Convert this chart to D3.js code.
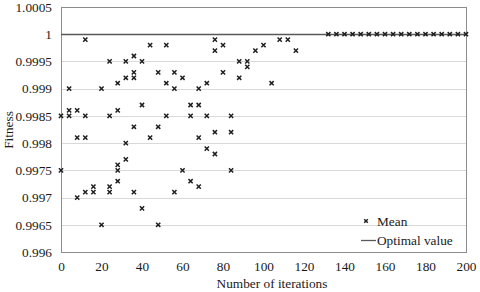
<!DOCTYPE html>
<meta charset="utf-8">
<style>

body {
  margin: 0;
  background: #fff;
}

text {
  font-family: "Liberation Serif", "Times New Roman", serif;
  font-size: 13.3px;
  fill: #1a1a1a;
}

.grid line {
  stroke: #d9d9d9;
  stroke-width: 1px;
}

.frame {
  fill: none;
  stroke: #8c8c8c;
  stroke-width: 1px;
}

.optimal {
  fill: none;
  stroke: #595959;
  stroke-width: 1.3px;
}

.mark {
  fill: none;
  stroke: #1f1f1f;
  stroke-width: 1.5px;
}

</style>
<body>
<script src="https://d3js.org/d3.v7.min.js"></script>
<script>

// mean fitness per run (iteration, value)
var meanIter = [
  0, 0,
  4, 4, 4,
  8, 8, 8,
  12, 12, 12, 12,
  16, 16,
  20, 20,
  24, 24, 24, 24,
  28, 28, 28, 28, 28,
  32, 32, 32, 32,
  36, 36, 36, 36, 36,
  40, 40, 40,
  44, 44,
  48, 48, 48,
  52, 52, 52,
  56, 56, 56,
  60, 60,
  64, 64, 64,
  68, 68, 68, 68,
  72, 72, 72,
  76, 76, 76, 76,
  80, 80,
  84, 84, 84,
  88, 88,
  92, 92,
  96, 100, 104, 108, 112, 116,
  132, 136, 140, 144, 148, 152, 156, 160, 164,
  168, 172, 176, 180, 184, 188, 192, 196, 200
];

var meanFitness = [
  0.9985, 0.9975,
  0.999, 0.9986, 0.9985,
  0.9986, 0.9981, 0.997,
  0.9999, 0.9985, 0.9981, 0.9971,
  0.9972, 0.9971,
  0.999, 0.9965,
  0.9995, 0.9985, 0.9972, 0.9971,
  0.9991, 0.9986, 0.9976, 0.9975, 0.9973,
  0.9995, 0.9992, 0.998, 0.9977,
  0.9996, 0.9993, 0.9992, 0.9983, 0.9971,
  0.9995, 0.9987, 0.9968,
  0.9998, 0.9981,
  0.9993, 0.9983, 0.9965,
  0.9998, 0.9991, 0.9985,
  0.9993, 0.999, 0.9971,
  0.9992, 0.9975,
  0.9987, 0.9985, 0.9973,
  0.999, 0.9987, 0.9981, 0.9972,
  0.9991, 0.9985, 0.9979,
  0.9999, 0.9997, 0.9982, 0.9978,
  0.9998, 0.9993,
  0.9985, 0.9982, 0.9975,
  0.9995, 0.9992,
  0.9995, 0.9994,
  0.9997, 0.9998, 0.9991, 0.9999, 0.9999, 0.9997,
  1, 1, 1, 1, 1, 1, 1, 1, 1,
  1, 1, 1, 1, 1, 1, 1, 1, 1
];

var optimalValue = 1;

var xTicks = [0, 20, 40, 60, 80, 100, 120, 140, 160, 180, 200];
var yTicks = [0.996, 0.9965, 0.997, 0.9975, 0.998, 0.9985, 0.999, 0.9995, 1, 1.0005];
var yTickLabels = ["0.996", "0.9965", "0.997", "0.9975", "0.998", "0.9985", "0.999", "0.9995", "1", "1.0005"];

var width = 480,
    height = 292;

var x = d3.scaleLinear()
    .domain([0, 200])
    .range([61, 466]);

var y = d3.scaleLinear()
    .domain([0.996, 1.0005])
    .range([252, 7]);

var svg = d3.select("body").append("svg")
    .attr("width", width)
    .attr("height", height);

// horizontal gridlines
svg.append("g")
    .attr("class", "grid")
  .selectAll("line")
    .data(yTicks.slice(1, -1))
  .enter().append("line")
    .attr("x1", x(0))
    .attr("x2", x(200))
    .attr("y1", function(d) { return Math.round(y(d)) + 0.5; })
    .attr("y2", function(d) { return Math.round(y(d)) + 0.5; });

svg.append("rect")
    .attr("class", "frame")
    .attr("x", x(0) + 0.5)
    .attr("y", y(1.0005) + 0.5)
    .attr("width", x(200) - x(0))
    .attr("height", y(0.996) - y(1.0005));

var xAxis = svg.append("g")
    .attr("transform", "translate(0," + y(0.996) + ")")
    .call(d3.axisBottom(x)
        .tickValues(xTicks)
        .tickSize(0)
        .tickPadding(10)
        .tickFormat(d3.format("d")));

var yAxis = svg.append("g")
    .attr("transform", "translate(" + x(0) + ",0)")
    .call(d3.axisLeft(y)
        .tickValues(yTicks)
        .tickSize(0)
        .tickPadding(9)
        .tickFormat(function(d, i) { return yTickLabels[i]; }));

[xAxis, yAxis].forEach(function(g) {
  g.attr("font-family", null).attr("font-size", null);
  g.select(".domain").remove();
  g.selectAll("text")
      .attr("fill", "#1a1a1a");
});

// optimal value line
svg.append("line")
    .attr("class", "optimal")
    .attr("x1", x(0))
    .attr("x2", x(200))
    .attr("y1", Math.round(y(optimalValue)) + 0.5)
    .attr("y2", Math.round(y(optimalValue)) + 0.5);

function cross(g, r) {
  g.append("path")
      .attr("class", "mark")
      .attr("d", "M" + (-r) + "," + (-r) + "L" + r + "," + r + "M" + (-r) + "," + r + "L" + r + "," + (-r));
}

var points = meanIter.map(function(d, i) { return [d, meanFitness[i]]; });

svg.append("g")
  .selectAll("g")
    .data(points)
  .enter().append("g")
    .attr("transform", function(d) { return "translate(" + x(d[0]) + "," + y(d[1]) + ")"; })
    .each(function() { cross(d3.select(this), 2.1); });

// axis titles
svg.append("text")
    .attr("transform", "translate(13,130) rotate(-90)")
    .attr("text-anchor", "middle")
    .text("Fitness");

svg.append("text")
    .attr("x", 272)
    .attr("y", 288)
    .attr("text-anchor", "middle")
    .text("Number of iterations");

// legend
var legend = svg.append("g");

legend.append("g")
    .attr("transform", "translate(366,221)")
    .call(cross, 1.8);

legend.append("text")
    .attr("x", 377)
    .attr("y", 226)
    .text("Mean");

legend.append("line")
    .attr("class", "optimal")
    .attr("x1", 361)
    .attr("x2", 376)
    .attr("y1", 240.5)
    .attr("y2", 240.5);

legend.append("text")
    .attr("x", 377)
    .attr("y", 245)
    .text("Optimal value");

</script>
